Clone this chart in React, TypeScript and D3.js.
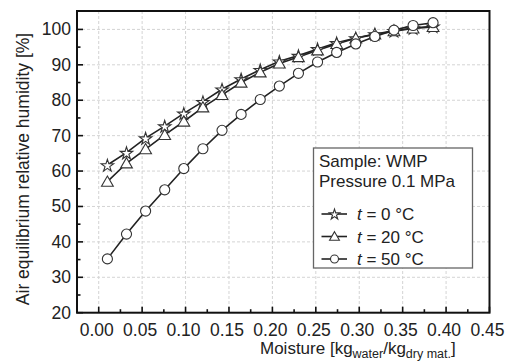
import React from "react";
import * as d3 from "d3";

const moisture = [0.010, 0.032, 0.054, 0.076, 0.098, 0.120, 0.142, 0.164, 0.186, 0.208, 0.230, 0.252, 0.274, 0.296, 0.318, 0.340, 0.362, 0.385];
const rh0 = [61.7, 65.2, 69.3, 72.7, 76.3, 79.6, 83.1, 86.0, 88.6, 91.0, 92.6, 94.5, 96.2, 97.6, 98.7, 99.6, 100.4, 100.9];
const rh20 = [57.0, 62.2, 66.2, 70.2, 74.0, 78.0, 81.5, 85.0, 87.9, 90.4, 92.2, 94.1, 95.9, 97.5, 98.6, 99.5, 100.3, 100.7];
const rh50 = [35.2, 42.2, 48.7, 54.7, 60.7, 66.3, 71.5, 76.0, 80.2, 84.0, 87.6, 90.8, 93.5, 95.9, 98.0, 99.8, 101.1, 101.9];
const seriesLabels = ["0", "20", "50"];
const xTicks = [0, 0.05, 0.1, 0.15, 0.2, 0.25, 0.3, 0.35, 0.4, 0.45];
const yTicks = [20, 30, 40, 50, 60, 70, 80, 90, 100];

const W = 511, H = 363;
const L = 77, R = 489.5, T = 11, B = 312.7;
const FONT = "'Liberation Sans', Arial, Helvetica, sans-serif";

export default function App() {
  const x = d3.scaleLinear().domain([-0.025, 0.45]).range([L, R]);
  const y = d3.scaleLinear().domain([20, 105.2]).range([B, T]);
  const line = d3.line<[number, number]>().x(d => x(d[0])).y(d => y(d[1]));
  const symbols = [d3.symbolStar, d3.symbolTriangle, d3.symbolCircle];
  const sizes = [48, 60, 80];
  const legendSizes = [34, 42, 50];
  const data = [rh0, rh20, rh50];
  const sym = (i: number, s: number[]) => d3.symbol().type(symbols[i]).size(s[i])() as string;
  const symOffset = [0.8, 1.2, 0];

  const xMinor = d3.range(0, 9).map(i => 0.025 + i * 0.05);
  const yMinor = d3.range(0, 8).map(i => 25 + i * 10);

  return (
    <svg width={W} height={H} style={{ position: "absolute", left: 0, top: 0, background: "#fff" }} fontFamily={FONT}>
      <rect x={0} y={0} width={W} height={H} fill="#fff" />
      {/* grid */}
      <g stroke="#d4d4d4" strokeWidth={1} strokeDasharray="3,2">
        {xTicks.map(t => <line key={"gx" + t} x1={x(t)} x2={x(t)} y1={T} y2={B} />)}
        {yTicks.map(t => <line key={"gy" + t} x1={L} x2={R} y1={y(t)} y2={y(t)} />)}
      </g>
      {/* series */}
      {data.map((vals, si) => (
        <path key={"s" + si} d={line(moisture.map((m, i) => [m, vals[i]] as [number, number])) as string} fill="none" stroke="#222" strokeWidth={1.6} />
      ))}
      {data.map((vals, si) => (
        <g key={"m" + si}>
          {moisture.map((m, i) => (
            <path key={i} d={sym(si, sizes)} transform={`translate(${x(m)},${y(vals[i]) + symOffset[si]})`} fill="#fff" stroke="#333" strokeWidth={1.1} />
          ))}
        </g>
      ))}
      {/* frame */}
      <rect x={L} y={T} width={R - L} height={B - T} fill="none" stroke="#111" strokeWidth={2} />
      {/* ticks */}
      <g stroke="#111" strokeWidth={1.6}>
        {xTicks.map(t => <line key={"tx" + t} x1={x(t)} x2={x(t)} y1={B} y2={B - 6} />)}
        {xMinor.map(t => <line key={"mx" + t} x1={x(t)} x2={x(t)} y1={B} y2={B - 3.5} />)}
        {yTicks.map(t => <line key={"ty" + t} x1={L} x2={L + 6} y1={y(t)} y2={y(t)} />)}
        {yMinor.map(t => <line key={"my" + t} x1={L} x2={L + 3.5} y1={y(t)} y2={y(t)} />)}
      </g>
      {/* tick labels */}
      <g fontSize={17.5} fill="#222">
        {xTicks.map(t => (
          <text key={"lx" + t} x={x(t) - 2} y={335.5} textAnchor="middle">{t.toFixed(2)}</text>
        ))}
        {yTicks.map(t => (
          <text key={"ly" + t} x={L - 6} y={y(t) + 6} textAnchor="end">{t}</text>
        ))}
      </g>
      {/* axis titles */}
      <text x={260} y={354} fontSize={17} fill="#222">
        Moisture [kg<tspan fontSize={12.5} dy={3.5}>water</tspan><tspan dy={-3.5}>/kg</tspan><tspan fontSize={12.5} dy={3.5}>dry mat.</tspan><tspan dy={-3.5}>]</tspan>
      </text>
      <text transform={`translate(29,169) rotate(-90)`} textAnchor="middle" fontSize={17.5} fill="#222">
        Air equilibrium relative humidity [%]
      </text>
      {/* legend */}
      <g>
        <rect x={313.5} y={148} width={159} height={120} fill="#fff" stroke="#666" strokeWidth={1.3} />
        <text x={319} y={167} fontSize={17} fill="#222">Sample: WMP</text>
        <text x={319} y={187} fontSize={17} fill="#222">Pressure 0.1 MPa</text>
        {seriesLabels.map((lab, i) => {
          const cy = 214 + i * 22.5;
          return (
            <g key={"lg" + i}>
              <line x1={321.5} x2={347} y1={cy} y2={cy} stroke="#222" strokeWidth={1.6} />
              <path d={sym(i, legendSizes)} transform={`translate(334.5,${cy + symOffset[i] * 0.7})`} fill="#fff" stroke="#333" strokeWidth={1.1} />
              <text x={357} y={cy + 6} fontSize={17} fill="#222">
                <tspan fontStyle="italic">t</tspan> = {lab} °C
              </text>
            </g>
          );
        })}
      </g>
    </svg>
  );
}
